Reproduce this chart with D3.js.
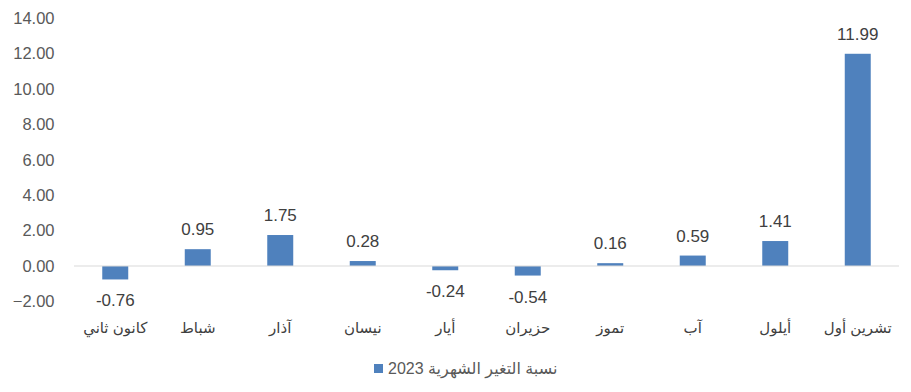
<!DOCTYPE html>
<html>
<head>
<meta charset="utf-8">
<script src="https://cdn.jsdelivr.net/npm/d3@7"></script>
<style>
  body { margin: 0; background: #fff; }
  text { font-family: 'Liberation Sans', 'DejaVu Sans', sans-serif; }
</style>
</head>
<body>
<div id="chart"></div>
<script>
const months = ['كانون ثاني', 'شباط', 'آذار', 'نيسان', 'أيار', 'حزيران', 'تموز', 'آب', 'أيلول', 'تشرين أول'];
const values = [-0.76, 0.95, 1.75, 0.28, -0.24, -0.54, 0.16, 0.59, 1.41, 11.99];
const yTicks = [-2, 0, 2, 4, 6, 8, 10, 12, 14];
const seriesName = 'نسبة التغير الشهرية 2023';

const width = 911;
const height = 392;
const barColor = '#4f81bd';

const svg = d3.select('#chart')
  .append('svg')
  .attr('width', width)
  .attr('height', height);

const x = d3.scaleBand()
  .domain(months)
  .range([74, 899])
  .paddingInner(0.685)
  .paddingOuter(0.3425);

const y = d3.scaleLinear()
  .domain([-2, 14])
  .range([301.4, 18.2]);

// y axis labels only, no line
const gy = svg.append('g')
  .attr('transform', 'translate(54.5,0)')
  .call(d3.axisLeft(y).tickValues(yTicks).tickSize(0).tickPadding(0).tickFormat(d3.format('.2f')));
gy.select('.domain').remove();
gy.selectAll('text')
  .attr('fill', '#595959')
  .style('font-size', '16.5px');

// bars
svg.append('g')
  .selectAll('rect')
  .data(values)
  .join('rect')
  .attr('x', (d, i) => x(months[i]))
  .attr('width', x.bandwidth())
  .attr('y', d => y(Math.max(0, d)))
  .attr('height', d => Math.abs(y(d) - y(0)))
  .attr('fill', barColor);

// zero line
svg.append('line')
  .attr('x1', 74)
  .attr('x2', 899)
  .attr('y1', y(0))
  .attr('y2', y(0))
  .attr('stroke', '#d9d9d9')
  .attr('stroke-width', 1.2);

// value labels
svg.append('g')
  .selectAll('text')
  .data(values)
  .join('text')
  .attr('x', (d, i) => x(months[i]) + x.bandwidth() / 2)
  .attr('y', d => d >= 0 ? y(d) - 20 : y(d) + 21)
  .attr('dy', '0.35em')
  .attr('text-anchor', 'middle')
  .attr('fill', '#404040')
  .style('font-size', '17px')
  .text(d => d.toFixed(2));

// category labels
svg.append('g')
  .selectAll('text')
  .data(months)
  .join('text')
  .attr('x', d => x(d) + x.bandwidth() / 2)
  .attr('y', 328)
  .attr('dy', '0.35em')
  .attr('text-anchor', 'middle')
  .attr('direction', 'rtl')
  .attr('fill', '#404040')
  .style('font-size', '15px')
  .text(d => d);

// legend
const legend = svg.append('g');
legend.append('rect')
  .attr('x', 374)
  .attr('y', 364)
  .attr('width', 9)
  .attr('height', 9)
  .attr('fill', barColor);
legend.append('text')
  .attr('x', 388)
  .attr('y', 368.5)
  .attr('dy', '0.35em')
  .attr('text-anchor', 'end')
  .attr('direction', 'rtl')
  .attr('fill', '#595959')
  .style('font-size', '16px')
  .text(seriesName);
</script>
</body>
</html>
